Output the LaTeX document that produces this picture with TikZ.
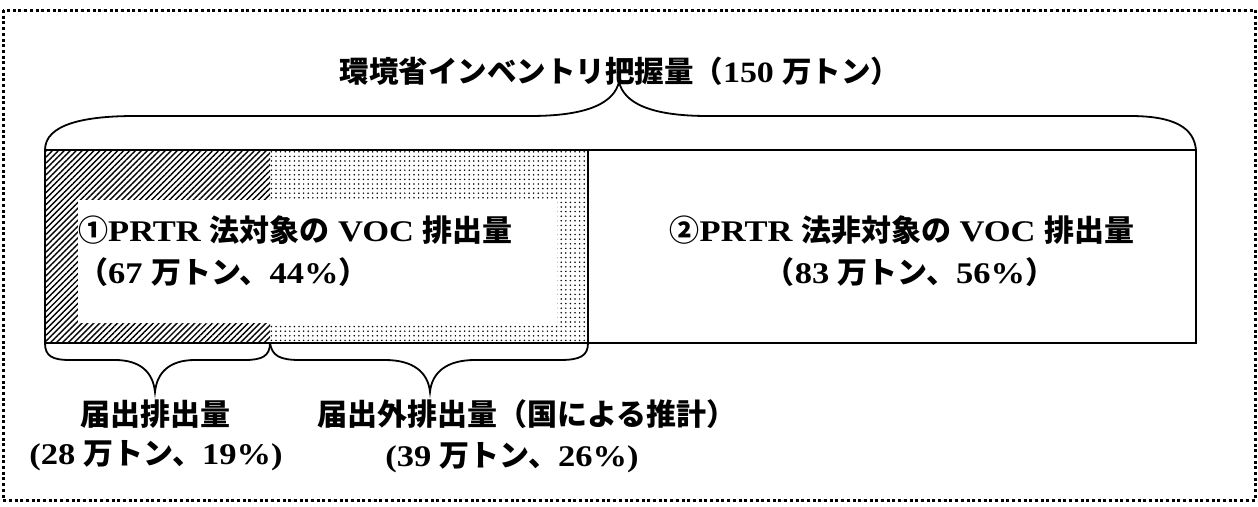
\documentclass[tikz,border=0pt]{standalone}
\usepackage{fontspec}
\setmainfont{Liberation Serif}[FakeStretch=1.15]
\newfontfamily\jp{Noto Sans CJK JP}
\usetikzlibrary{patterns.meta}
\newcommand\J[1]{{\jp #1}}
\tikzset{
  frameline/.style={line width=3pt, dash pattern=on 3pt off 2.7pt},
  boxline/.style={line width=2.6pt},
  braceline/.style={line width=1.8pt},
  lbl/.style={inner sep=0pt, font=\bfseries\fontsize{30}{33}\selectfont},
  ttl/.style={inner sep=0pt, font=\bfseries\fontsize{29.5}{32}\selectfont},
  hatchfill/.style={pattern={Lines[angle=45,distance=4.2pt,line width=1.4pt]}},
  dotfill/.style={pattern={Dots[distance=4.6pt,radius=0.85pt]}},
}
\begin{document}
\begin{tikzpicture}[x=1pt,y=-1pt]
\useasboundingbox (0,0) rectangle (1258,506);
% outer dotted frame
\draw[frameline] (3,10) rectangle (1255,500);
% coordinates
\coordinate (bl) at (45,343);
\coordinate (tl) at (45,150);
\coordinate (tr) at (1196,150);
\coordinate (br) at (1196,343);
\coordinate (mtop) at (270,150);
\coordinate (mbot) at (270,343);
\coordinate (stop) at (588,150);
\coordinate (sbot) at (588,343);
% filled regions
\fill[hatchfill] (tl) rectangle (mbot);
\fill[dotfill] (mtop) rectangle (sbot);
\fill[white] (78,200) rectangle (557,323);
\draw[boxline] (tl) rectangle (br);
\draw[boxline] (stop) -- (sbot);
% top brace
\coordinate (ttip) at (619,82);
\draw[braceline] (tl) .. controls (45,124) and (85,116) .. (135,116) -- (530,116)
  .. controls (590,116) and (614,102) .. (ttip)
  .. controls (624,102) and (648,116) .. (708,116) -- (1130,116)
  .. controls (1175,116) and (1194,128) .. (tr);
% bottom brace left
\coordinate (ltip) at (155,392);
\draw[braceline] (bl) .. controls (45,356) and (52,360) .. (70,360) -- (115,360)
  .. controls (140,360) and (153,372) .. (ltip)
  .. controls (157,372) and (170,360) .. (195,360) -- (245,360)
  .. controls (262,360) and (270,356) .. (mbot);
% bottom brace right
\coordinate (rtip) at (430,392);
\draw[braceline] (mbot) .. controls (272,356) and (280,360) .. (300,360) -- (385,360)
  .. controls (413,360) and (428,372) .. (rtip)
  .. controls (432,372) and (447,360) .. (475,360) -- (560,360)
  .. controls (580,360) and (588,356) .. (sbot);
% texts
\node[ttl] (title) at (620,71) {\J{環境省インベントリ把握量（}150 \J{万トン）}};
\node[lbl, anchor=west] (a1) at (78,230) {\J{①}PRTR \J{法対象の} VOC \J{排出量}};
\node[lbl, anchor=west] (a2) at (78,272) {\J{（}67 \J{万トン、}44\%\J{）}};
\node[lbl] (b1) at (902,230) {\J{②}PRTR \J{法非対象の} VOC \J{排出量}};
\node[lbl] (b2) at (910,272) {\J{（}83 \J{万トン、}56\%\J{）}};
\node[lbl] (c1) at (155,414) {\J{届出排出量}};
\node[lbl] (c2) at (156,456) {(28 \J{万トン、}19\%)};
\node[lbl] (d1) at (527,414) {\J{届出外排出量（国による推計）}};
\node[lbl] (d2) at (512,458) {(39 \J{万トン、}26\%)};
\end{tikzpicture}
\end{document}
